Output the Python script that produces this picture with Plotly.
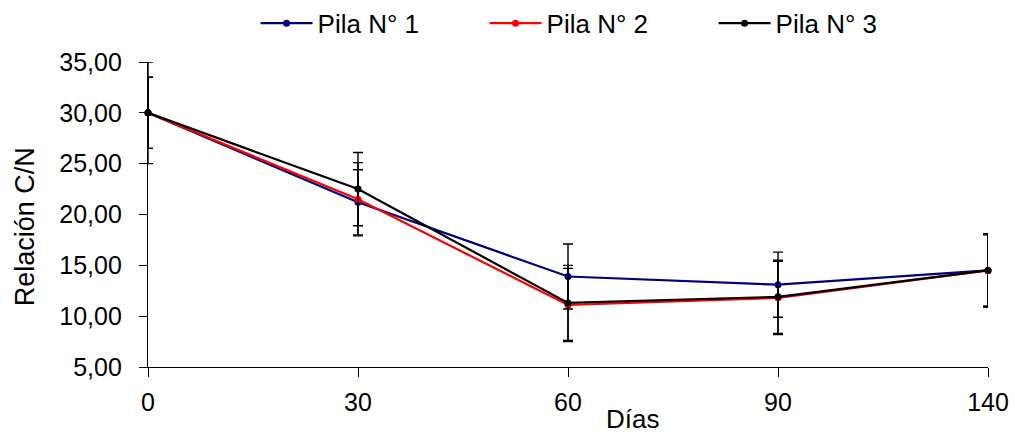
import plotly.graph_objects as go

dias = ["0", "30", "60", "90", "140"]
pila1 = [30.0, 21.2, 13.9, 13.1, 14.5]
pila2 = [30.0, 21.5, 11.1, 11.8, 14.5]
pila3 = [30.0, 22.5, 11.3, 11.9, 14.5]
err1 = [3.5, 3.2, 3.2, 3.2, 3.5]
err2 = [3.5, 3.6, 3.6, 3.6, 3.6]
err3 = [5.0, 3.6, 3.7, 3.6, 3.6]

names = ["Pila N° 1", "Pila N° 2", "Pila N° 3"]
colors = ["#000080", "#FF0000", "#000000"]

fig = go.Figure()
for name, ys, err, col in zip(names, [pila1, pila2, pila3], [err1, err2, err3], colors):
    fig.add_trace(go.Scatter(
        x=dias, y=ys, name=name, mode="lines+markers",
        line=dict(color=col, width=2.2),
        marker=dict(color=col, size=7),
        error_y=dict(type="data", array=err, visible=True, color="#000000",
                     thickness=1.4, width=5),
        cliponaxis=False,
    ))

font = "Liberation Sans, Arial, sans-serif"
fig.update_layout(
    width=1015, height=436,
    margin=dict(l=148, r=27, t=62, b=69, autoexpand=False),
    plot_bgcolor="white", paper_bgcolor="white",
    separators=",.",
    font=dict(family=font, size=25, color="#000000"),
    showlegend=True,
    legend=dict(orientation="h", x=0.537, xanchor="center", y=1.05, yanchor="bottom",
                font=dict(size=26), itemwidth=52, tracegroupgap=0,
                entrywidth=162, bgcolor="rgba(0,0,0,0)"),
    xaxis=dict(type="category", range=[0, 4], showline=True, linecolor="#000000",
               linewidth=1.3, ticks="outside", ticklen=9, tickcolor="#000000",
               showgrid=False, zeroline=False, ticklabelstandoff=4, automargin=False),
    yaxis=dict(range=[5, 35], dtick=5, tickformat=".2f", showline=True,
               linecolor="#000000", linewidth=1.3, ticks="outside", ticklen=8,
               tickcolor="#000000", showgrid=False, zeroline=False, automargin=False,
               ticklabelstandoff=12),
    annotations=[
        dict(text="Días", xref="paper", yref="paper", x=0.577, y=-0.172,
             xanchor="center", yanchor="middle", showarrow=False,
             font=dict(size=26)),
        dict(text="Relación C/N", xref="paper", yref="paper", x=-0.146, y=0.459,
             xanchor="center", yanchor="middle", textangle=-90, showarrow=False,
             font=dict(size=27)),
    ],
)

fig.write_html("out.html")
